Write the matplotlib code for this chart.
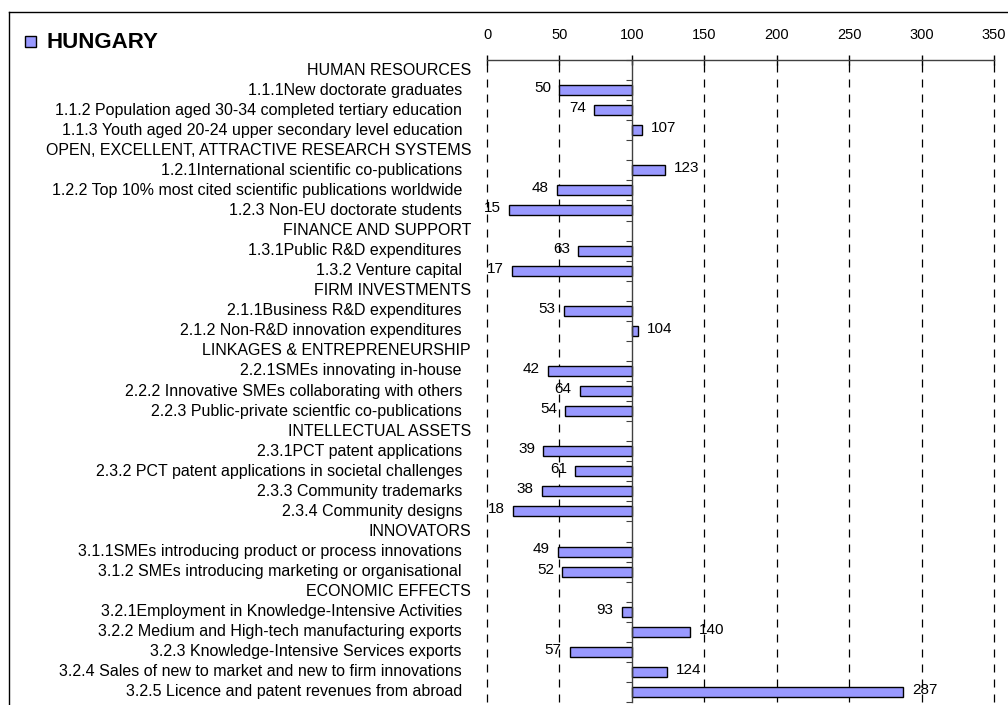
import numpy as np
import matplotlib
matplotlib.use('Agg')
import matplotlib.pyplot as plt
from matplotlib.lines import Line2D
from matplotlib.patches import Rectangle
import matplotlib.transforms as mtransforms

plt.rcParams['font.family'] = ['Liberation Sans', 'DejaVu Sans']

COUNTRY = 'HUNGARY'

LABELS = [
    'HUMAN RESOURCES',
    '1.1.1New doctorate graduates',
    '1.1.2 Population aged 30-34 completed tertiary education',
    '1.1.3 Youth aged 20-24 upper secondary level education',
    'OPEN, EXCELLENT, ATTRACTIVE RESEARCH SYSTEMS',
    '1.2.1International scientific co-publications',
    '1.2.2 Top 10% most cited scientific publications worldwide',
    '1.2.3 Non-EU doctorate students',
    'FINANCE AND SUPPORT',
    '1.3.1Public R&D expenditures',
    '1.3.2 Venture capital',
    'FIRM INVESTMENTS',
    '2.1.1Business R&D expenditures',
    '2.1.2 Non-R&D innovation expenditures',
    'LINKAGES & ENTREPRENEURSHIP',
    '2.2.1SMEs innovating in-house',
    '2.2.2 Innovative SMEs collaborating with others',
    '2.2.3 Public-private scientfic co-publications',
    'INTELLECTUAL ASSETS',
    '2.3.1PCT patent applications',
    '2.3.2 PCT patent applications in societal challenges',
    '2.3.3 Community trademarks',
    '2.3.4 Community designs',
    'INNOVATORS',
    '3.1.1SMEs introducing product or process innovations',
    '3.1.2 SMEs introducing marketing or organisational',
    'ECONOMIC EFFECTS',
    '3.2.1Employment in Knowledge-Intensive Activities',
    '3.2.2 Medium and High-tech manufacturing exports',
    '3.2.3 Knowledge-Intensive Services exports',
    '3.2.4 Sales of new to market and new to firm innovations',
    '3.2.5 Licence and patent revenues from abroad',
]

# nan = section header row (no bar)
VALUES = [np.nan, 50, 74, 107,
          np.nan, 123, 48, 15,
          np.nan, 63, 17,
          np.nan, 53, 104,
          np.nan, 42, 64, 54,
          np.nan, 39, 61, 38, 18,
          np.nan, 49, 52,
          np.nan, 93, 140, 57, 124, 287]

BASE = 100
XTICKS = [0, 50, 100, 150, 200, 250, 300, 350]

BAR_COLOR = '#9999FF'

W, H = 1008, 705
fig = plt.figure(figsize=(W / 100, H / 100), dpi=100)
ax = fig.add_axes([487 / W, 1 - 702 / H, (994 - 487) / W, (702 - 60) / H])

n = len(LABELS)
y = np.arange(n)
vals = np.array(VALUES, dtype=float)
is_head = np.isnan(vals)

# grid (dashed) behind bars
for xv in XTICKS:
    if xv != BASE:
        ax.axvline(xv, color='black', lw=0.9, ls=(0, (6.4, 5.6)), zorder=0, clip_on=False)

bar_y = y[~is_head]
bar_v = vals[~is_head]
ax.barh(bar_y, bar_v - BASE, left=BASE, height=0.5,
        color=BAR_COLOR, edgecolor='black', linewidth=1.0, zorder=2)

for yi, v in zip(bar_y, bar_v):
    if v < BASE:
        ax.annotate(f'{v:.0f}', (v, yi), xytext=(-6, 1.5), textcoords='offset points',
                    ha='right', va='center', fontsize=11)
    else:
        ax.annotate(f'{v:.0f}', (v, yi), xytext=(6.5, 1.5), textcoords='offset points',
                    ha='left', va='center', fontsize=11)

ax.set_xlim(0, 350)
ax.set_ylim(n - 0.5, -0.5)

# x axis on top
ax.xaxis.tick_top()
ax.set_xticks(XTICKS)
ax.tick_params(axis='x', direction='inout', length=7.5, width=1, pad=9,
               labelsize=10.5, colors='black')
for s in ['right', 'bottom']:
    ax.spines[s].set_visible(False)
ax.spines['top'].set_color('#404040')
ax.spines['top'].set_linewidth(1)

# category axis crossing at 100
ax.spines['left'].set_position(('data', BASE))
ax.spines['left'].set_color('#404040')
ax.spines['left'].set_linewidth(1)
ax.spines['left'].set_zorder(3)
ax.set_yticks(np.arange(n + 1) - 0.5)
ax.set_yticklabels([])
ax.tick_params(axis='y', direction='out', length=4, width=0.8, colors='#404040')

# category labels at the left of the figure
tr = mtransforms.blended_transform_factory(fig.transFigure, ax.transData)
for yi, lab, head in zip(y, LABELS, is_head):
    xpos = 471 / W if head else 462 / W
    ax.text(xpos, yi, lab, transform=tr, ha='right', va='center',
            fontsize=11.5, clip_on=False)

# title with legend square
fig.add_artist(Rectangle((25 / W, 1 - 47 / H), 11 / W, 11 / H, transform=fig.transFigure,
                         facecolor=BAR_COLOR, edgecolor='black', lw=1))
fig.text(46 / W, 1 - 42 / H, COUNTRY, fontsize=16, fontweight='bold', va='center', ha='left')

# chart frame (left and top edges visible)
fig.add_artist(Line2D([8.5 / W, 8.5 / W], [0, 1 - 12 / H], transform=fig.transFigure, color='black', lw=1))
fig.add_artist(Line2D([8.5 / W, 1], [1 - 12 / H, 1 - 12 / H], transform=fig.transFigure, color='black', lw=1))

fig.savefig('out.png', dpi=100)
